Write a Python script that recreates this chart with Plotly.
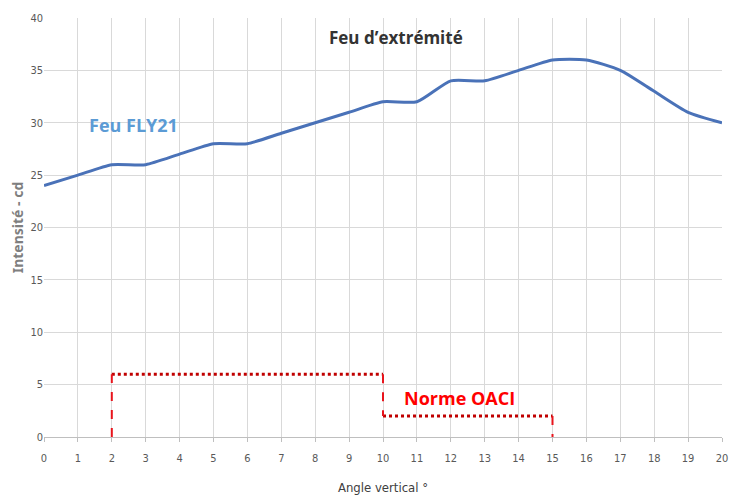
import plotly.graph_objects as go

angles = list(range(0, 21))
fly21 = [24, 25, 26, 26, 27, 28, 28, 29, 30, 31, 32, 32, 34, 34, 35, 36, 36, 35, 33, 31, 30]

norm_h_x = [2, 10, None, 10, 15]
norm_h_y = [6, 6, None, 2, 2]
norm_v_x = [2, 2, None, 10, 10, None, 15, 15]
norm_v_y = [0, 6, None, 6, 2, None, 2, 0]

x_ticks = list(range(0, 21))
y_ticks = list(range(0, 41, 5))

fig = go.Figure()
fig.add_trace(go.Scatter(x=angles, y=fly21, mode="lines",
                         line=dict(color="#4a72b8", width=3, shape="spline", smoothing=0.6),
                         showlegend=False, hoverinfo="skip"))
fig.add_trace(go.Scatter(x=norm_h_x, y=norm_h_y, mode="lines",
                         line=dict(color="#c00000", width=3, dash="dot"),
                         showlegend=False, hoverinfo="skip"))
fig.add_trace(go.Scatter(x=norm_v_x, y=norm_v_y, mode="lines",
                         line=dict(color="#e8141c", width=2, dash="dash"),
                         showlegend=False, hoverinfo="skip"))

narrow = "DejaVu Sans Condensed, Liberation Sans Narrow, sans-serif"
tickfont = dict(family=narrow, size=11, color="#595959")

fig.update_layout(
    width=732, height=487,
    margin=dict(l=36, r=18, t=10, b=58),
    paper_bgcolor="white", plot_bgcolor="white",
    xaxis=dict(range=[0, 20], tickvals=x_ticks, ticktext=[str(v) for v in x_ticks],
               showgrid=True, gridcolor="#d9d9d9", gridwidth=1, zeroline=False,
               showline=True, linecolor="#bfbfbf", ticks="outside", ticklen=4, tickcolor="#bfbfbf",
               tickfont=tickfont, automargin=False, ticklabelstandoff=7,
               title=dict(text="Angle vertical °", standoff=20,
                          font=dict(family=narrow, size=13, color="#404040"))),
    yaxis=dict(range=[0, 40], tickvals=y_ticks, ticktext=[str(v) for v in y_ticks],
               showgrid=True, gridcolor="#d9d9d9", gridwidth=1, zeroline=False,
               showline=False, ticks="", tickfont=tickfont, automargin=False,
               title=dict(text="Intensité - cd", standoff=3,
                          font=dict(family="Noto Sans, sans-serif", size=14, color="#7f7f7f", weight="bold"))),
    annotations=[
        dict(x=10.38, y=38.1, xref="x", yref="y", text="<b>Feu d’extrémité</b>", showarrow=False,
             font=dict(family="Open Sans, Noto Sans, sans-serif", size=17, color="#333333")),
        dict(x=2.63, y=29.8, xref="x", yref="y", text="<b>Feu FLY21</b>", showarrow=False,
             font=dict(family="Open Sans, Noto Sans, sans-serif", size=18, color="#5b9bd5")),
        dict(x=12.27, y=3.72, xref="x", yref="y", text="<b>Norme OACI</b>", showarrow=False,
             font=dict(family="Open Sans, Noto Sans, sans-serif", size=18, color="#ff0000")),
    ],
)

fig.write_html("out.html")
